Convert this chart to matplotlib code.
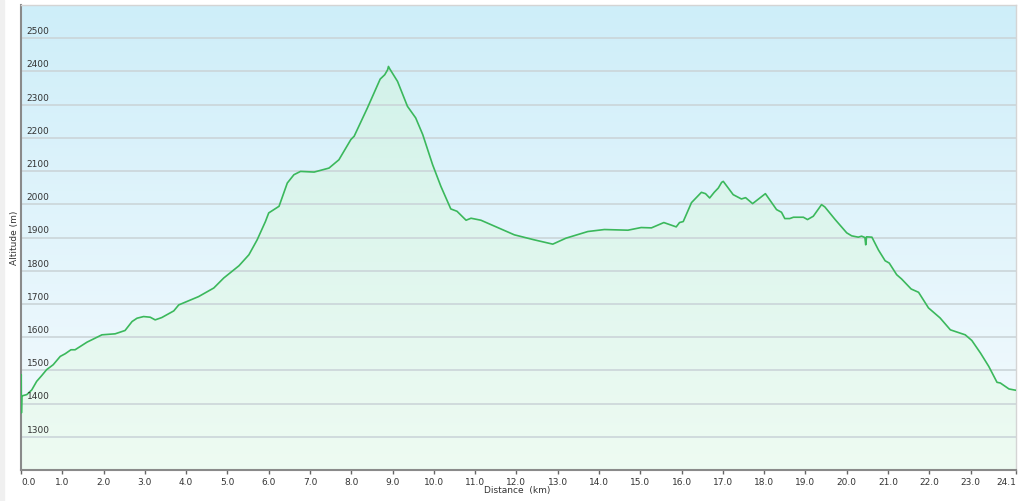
import numpy as np
import matplotlib
matplotlib.use("Agg")
import matplotlib.pyplot as plt
from matplotlib.colors import LinearSegmentedColormap
from matplotlib.patches import Rectangle

# elevation profile (km, m)
dist_km = [0.00, 0.005, 0.01, 0.02, 0.14, 0.26, 0.38, 0.50, 0.62, 0.78, 0.95,
           1.07, 1.21, 1.31, 1.60, 1.96, 2.28, 2.52, 2.69, 2.81, 2.97, 3.13,
           3.25, 3.41, 3.70, 3.82, 4.30, 4.67, 4.91, 5.11, 5.28, 5.52, 5.72,
           5.92, 6.00, 6.25, 6.45, 6.61, 6.77, 7.10, 7.46, 7.70, 7.99, 8.07,
           8.39, 8.70, 8.81, 8.88, 8.90, 8.93, 9.12, 9.36, 9.56, 9.73, 9.97,
           10.17, 10.41, 10.56, 10.78, 10.90, 11.06, 11.14, 11.95, 12.43,
           12.88, 13.20, 13.73, 14.13, 14.70, 15.02, 15.27, 15.57, 15.87,
           15.95, 16.04, 16.24, 16.48, 16.58, 16.68, 16.79, 16.89, 16.97,
           17.01, 17.25, 17.45, 17.55, 17.72, 18.03, 18.30, 18.42, 18.50,
           18.62, 18.71, 18.95, 19.05, 19.19, 19.39, 19.47, 19.72, 20.00,
           20.12, 20.28, 20.36, 20.44, 20.46, 20.48, 20.61, 20.77, 20.93,
           21.03, 21.21, 21.33, 21.56, 21.74, 21.98, 22.26, 22.51, 22.63,
           22.87, 23.03, 23.24, 23.44, 23.64, 23.72, 23.93, 24.10]
alt_m = [1423, 1487, 1372, 1423, 1427, 1441, 1467, 1484, 1502, 1517, 1542,
         1550, 1562, 1562, 1585, 1607, 1610, 1620, 1647, 1657, 1662, 1660,
         1652, 1659, 1679, 1697, 1722, 1748, 1778, 1798, 1815, 1848, 1893,
         1948, 1974, 1994, 2064, 2089, 2099, 2097, 2109, 2134, 2195, 2205,
         2290, 2377, 2390, 2405, 2415, 2408, 2370, 2295, 2260, 2210, 2119,
         2054, 1986, 1979, 1952, 1958, 1954, 1952, 1908, 1893,
         1880, 1898, 1918, 1924, 1922, 1930, 1929, 1945, 1932,
         1945, 1948, 2005, 2036, 2032, 2019, 2036, 2049, 2066,
         2069, 2029, 2016, 2020, 2002, 2032, 1984, 1976, 1957,
         1957, 1961, 1961, 1954, 1964, 1999, 1992, 1954, 1914,
         1905, 1901, 1904, 1900, 1878, 1902, 1901, 1862, 1830,
         1823, 1788, 1775, 1745, 1735, 1688, 1658, 1622, 1617,
         1607, 1590, 1552, 1512, 1464, 1462, 1444, 1440]

y_ticks = [1300, 1400, 1500, 1600, 1700, 1800, 1900, 2000, 2100, 2200, 2300, 2400, 2500]
x_ticks = list(range(24)) + [24.1]

fig = plt.figure(figsize=(10.24, 5.01), dpi=100)
fig.patches.append(Rectangle((0, 0), 4 / 1024, 1, transform=fig.transFigure,
                             color="#f0f0f0", zorder=0))
ax = fig.add_axes([21 / 1024, 31 / 501, 995 / 1024, 465 / 501])
ax.set_xlim(0, 24.1)
ax.set_ylim(1200, 2600)

# background gradient (light blue top -> almost white bottom)
bg = LinearSegmentedColormap.from_list("bg", ["#f6fbfe", "#ceeef9"])
grad = np.linspace(0, 1, 256).reshape(-1, 1)
ax.imshow(grad, cmap=bg, origin="lower", aspect="auto",
          extent=(0, 24.1, 1200, 2600), zorder=0)

# green fill under the profile, also as a gradient
fillmap = LinearSegmentedColormap.from_list("fill", ["#eefbf2", "#d2f2ea"])
poly = ax.fill_between(dist_km, alt_m, 1200, color="none", lw=0)
img = ax.imshow(grad, cmap=fillmap, origin="lower", aspect="auto",
                extent=(0, 24.1, 1200, 2450), zorder=1)
img.set_clip_path(poly.get_paths()[0], transform=ax.transData)

for v in y_ticks:
    ax.axhline(v, color="#cbd5d9", lw=1.2, zorder=2)
    ax.annotate(str(v), xy=(0, v), xycoords=("axes fraction", "data"),
                xytext=(4, 1.5), textcoords="offset points",
                ha="left", va="bottom", fontsize=6.5, color="#333333", zorder=4)

ax.plot(dist_km, alt_m, color="#3bb85c", lw=1.2, zorder=3)

ax.set_yticks([])
ax.set_xticks(x_ticks)
ax.set_xticklabels([f"{t:.1f}" for t in x_ticks])
labels = ax.get_xticklabels()
labels[0].set_ha("left")
labels[-1].set_ha("right")
ax.tick_params(axis="x", direction="out", length=3, width=1, color="#666666",
               labelsize=6.5, labelcolor="#333333", pad=3)

for side in ("left", "bottom"):
    ax.spines[side].set_color("#8a8a8a")
    ax.spines[side].set_linewidth(1.5)
for side in ("top", "right"):
    ax.spines[side].set_color("#d4d4d4")
    ax.spines[side].set_linewidth(1)

fig.text(517 / 1024, 1 - 491 / 501, "Distance  (km)", ha="center", va="center",
         fontsize=6.5, color="#333333")
fig.text(14 / 1024, 1 - 238 / 501, "Altitude (m)", ha="center", va="center",
         rotation=90, fontsize=6.5, color="#333333")

fig.savefig("out.png", dpi=100)
